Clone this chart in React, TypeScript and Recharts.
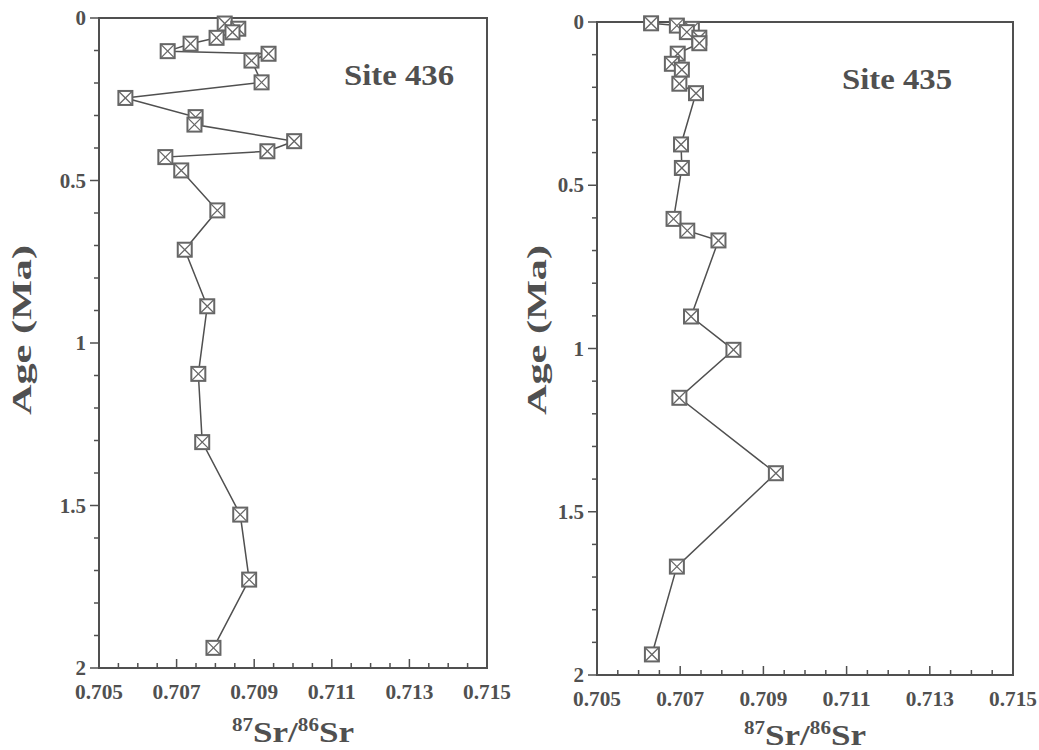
import { ScatterChart, Scatter, XAxis, YAxis, ReferenceArea } from "recharts";

// Site 436 (left panel)
const site436Sr = [
  0.70824, 0.70859, 0.70844, 0.70803, 0.70736, 0.70677, 0.70937, 0.70893, 0.70919, 0.70568, 0.70749, 0.70746,
  0.71003, 0.70934, 0.70671, 0.70712, 0.70805, 0.70721, 0.70779, 0.70756, 0.70766, 0.70864, 0.70887, 0.70795,
];
const site436Age = [
  0.017, 0.033, 0.044, 0.061, 0.079, 0.102, 0.110, 0.131, 0.198, 0.246, 0.305, 0.328,
  0.379, 0.410, 0.428, 0.469, 0.592, 0.713, 0.887, 1.095, 1.305, 1.528, 1.728, 1.938,
];

// Site 435 (right panel)
const site435Sr = [
  0.7063, 0.70692, 0.70728, 0.70716, 0.70746, 0.70746, 0.70694, 0.7068, 0.70704, 0.70698, 0.70738,
  0.70702, 0.70704, 0.70684, 0.70717, 0.70792, 0.70726, 0.70828, 0.70698, 0.7093, 0.70692, 0.70632,
];
const site435Age = [
  0.004, 0.011, 0.021, 0.031, 0.048, 0.065, 0.097, 0.128, 0.146, 0.189, 0.218,
  0.375, 0.447, 0.603, 0.639, 0.669, 0.902, 1.004, 1.151, 1.382, 1.668, 1.937,
];

const xTicks = [
  0.705, 0.7055, 0.706, 0.7065, 0.707, 0.7075, 0.708, 0.7085, 0.709, 0.7095, 0.71,
  0.7105, 0.711, 0.7115, 0.712, 0.7125, 0.713, 0.7135, 0.714, 0.7145, 0.715,
];
const yTicks = [0, 0.1, 0.2, 0.3, 0.4, 0.5, 0.6, 0.7, 0.8, 0.9, 1, 1.1, 1.2, 1.3, 1.4, 1.5, 1.6, 1.7, 1.8, 1.9, 2];

const FONT = '"Liberation Serif", "Times New Roman", serif';
const INK = "#505050";

const toPoints = (sr: number[], age: number[]) => sr.map((v, i) => ({ sr: v, age: age[i] }));

function XTick(props: any) {
  const { x, y, payload } = props;
  const v = payload.value as number;
  const major = Math.round((v - 0.705) * 2000) % 4 === 0;
  return (
    <g>
      <line x1={x} x2={x} y1={y} y2={y - (major ? 9 : 5)} stroke={INK} strokeWidth={1.5} />
      {major && (
        <text
          x={x}
          y={y + 31}
          textAnchor="middle"
          fontFamily={FONT}
          fontWeight="bold"
          fontSize={21}
          fill={INK}
          textLength={48}
          lengthAdjust="spacingAndGlyphs"
        >
          {v.toFixed(3)}
        </text>
      )}
    </g>
  );
}

function YTick(props: any) {
  const { x, y, payload } = props;
  const v = payload.value as number;
  const major = Math.round(v * 10) % 5 === 0;
  return (
    <g>
      <line x1={x} x2={x - (major ? 9 : 5)} y1={y} y2={y} stroke={INK} strokeWidth={1.5} />
      {major && (
        <text x={x - 13} y={y + 7} textAnchor="end" fontFamily={FONT} fontWeight="bold" fontSize={21} fill={INK}>
          {String(v)}
        </text>
      )}
    </g>
  );
}

function BoxX(props: any) {
  const { cx, cy } = props;
  const s = 7;
  return (
    <g>
      <rect x={cx - s} y={cy - s} width={2 * s} height={2 * s} fill="#fff" stroke="#666" strokeWidth={2} />
      <line x1={cx - s} y1={cy - s} x2={cx + s} y2={cy + s} stroke="#666" strokeWidth={1.3} />
      <line x1={cx - s} y1={cy + s} x2={cx + s} y2={cy - s} stroke="#666" strokeWidth={1.3} />
    </g>
  );
}

function Panel({
  data,
  site,
  width,
  margin,
  ageX,
  titleDy,
}: {
  data: { sr: number; age: number }[];
  site: string;
  width: number;
  margin: { top: number; right: number; bottom: number; left: number };
  ageX: number;
  titleDy: number;
}) {
  return (
    <ScatterChart width={width} height={750} margin={margin}>
      <XAxis
        type="number"
        dataKey="sr"
        domain={[0.705, 0.715]}
        ticks={xTicks}
        interval={0}
        tickSize={0}
        tickMargin={0}
        tickLine={false}
        height={70}
        axisLine={{ stroke: INK, strokeWidth: 2 }}
        tick={<XTick />}
        label={{
          content: (p: any) => {
            const vb = p.viewBox;
            return (
              <text
                x={vb.x + vb.width / 2}
                y={vb.y + titleDy}
                textAnchor="middle"
                fontFamily={FONT}
                fontWeight="bold"
                fill={INK}
                textLength={122}
                lengthAdjust="spacingAndGlyphs"
              >
                <tspan fontSize={18} dy={-11}>87</tspan>
                <tspan fontSize={30} dy={11}>Sr/</tspan>
                <tspan fontSize={18} dy={-11}>86</tspan>
                <tspan fontSize={30} dy={11}>Sr</tspan>
              </text>
            );
          },
        }}
      />
      <YAxis
        type="number"
        dataKey="age"
        reversed
        domain={[0, 2]}
        ticks={yTicks}
        interval={0}
        tickSize={0}
        tickMargin={0}
        tickLine={false}
        width={60}
        axisLine={{ stroke: INK, strokeWidth: 2 }}
        tick={<YTick />}
        label={{
          content: () => (
            <text
              x={ageX}
              y={330}
              transform={`rotate(-90 ${ageX} 330)`}
              textAnchor="middle"
              fontFamily={FONT}
              fontWeight="bold"
              fontSize={28}
              fill={INK}
              textLength={170}
              lengthAdjust="spacingAndGlyphs"
            >
              Age (Ma)
            </text>
          ),
        }}
      />
      <ReferenceArea
        x1={0.705}
        x2={0.715}
        y1={0}
        y2={2}
        fill="none"
        stroke={INK}
        strokeWidth={2}
        label={{
          content: (p: any) => {
            const vb = p.viewBox;
            return (
              <text
                x={vb.x + 300}
                y={vb.y + 67}
                textAnchor="middle"
                fontFamily={FONT}
                fontWeight="bold"
                fontSize={29}
                fill={INK}
                textLength={110}
                lengthAdjust="spacingAndGlyphs"
              >
                {site}
              </text>
            );
          },
        }}
      />
      <Scatter
        data={data}
        line={{ stroke: INK, strokeWidth: 1.5 }}
        shape={<BoxX />}
        isAnimationActive={false}
      />
    </ScatterChart>
  );
}

export default function App() {
  return (
    <div style={{ position: "absolute", left: 0, top: 0, width: 1039, height: 750, background: "#fff" }}>
      <div style={{ position: "absolute", left: 0, top: 0 }}>
        <Panel
          data={toPoints(site436Sr, site436Age)}
          site="Site 436"
          width={520}
          margin={{ top: 18, right: 33, bottom: 12, left: 39 }}
          ageX={31}
          titleDy={74}
        />
      </div>
      <div style={{ position: "absolute", left: 520, top: 0 }}>
        <Panel
          data={toPoints(site435Sr, site435Age)}
          site="Site 435"
          width={519}
          margin={{ top: 22, right: 26, bottom: 5, left: 17 }}
          ageX={26}
          titleDy={70}
        />
      </div>
    </div>
  );
}
